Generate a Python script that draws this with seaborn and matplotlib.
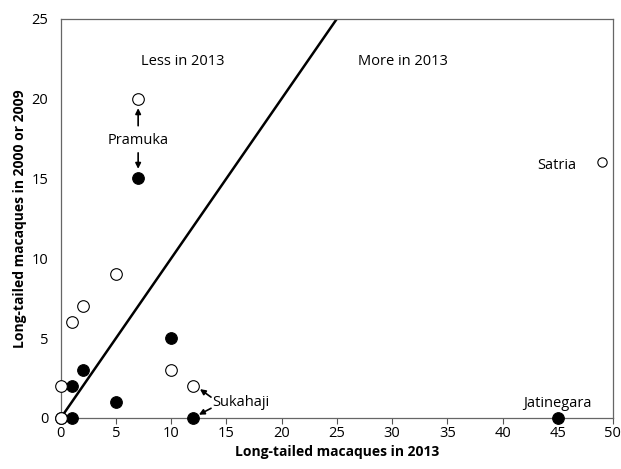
import numpy as np
import pandas as pd
import seaborn as sns
import matplotlib.pyplot as plt

# macaque counts: x = 2013, y = earlier survey
open_x = [7, 5, 2, 1, 0, 0, 10, 12]
open_y = [20, 9, 7, 6, 2, 0, 3, 2]
filled_x = [0, 7, 10, 2, 1, 5, 1, 12, 45]
filled_y = [0, 15, 5, 3, 2, 1, 0, 0, 0]
satria_x = [49]
satria_y = [16]

sns.set_theme(style="white", rc={"text.color": "black", "axes.labelcolor": "black",
                                 "xtick.color": "black", "ytick.color": "black"})
plt.rcParams['font.family'] = ['Open Sans', 'DejaVu Sans']

fig = plt.figure(figsize=(6.21, 4.69), dpi=100)
ax = fig.add_axes([0.098, 0.109, 0.889, 0.851])

ax.plot([0, 25], [0, 25], color="black", lw=1.8, zorder=1)

filled = pd.DataFrame({"x": filled_x, "y": filled_y})
opened = pd.DataFrame({"x": open_x, "y": open_y})
sns.scatterplot(data=filled, x="x", y="y", ax=ax, color="black",
                edgecolor="black", s=70, linewidth=0.8, zorder=3, clip_on=False)
sns.scatterplot(data=opened, x="x", y="y", ax=ax, color="white",
                edgecolor="black", s=70, linewidth=0.8, zorder=4, clip_on=False)
sns.scatterplot(x=satria_x, y=satria_y, ax=ax, color="white",
                edgecolor="black", s=45, linewidth=0.8, zorder=4, clip_on=False)

ax.set_xlim(0, 50)
ax.set_ylim(0, 25)
ax.set_xticks(range(0, 51, 5))
ax.set_yticks(range(0, 26, 5))
ax.tick_params(axis="x", direction="out", length=4, width=0.8, color="#555555",
               labelsize=10.5, pad=2, bottom=True)
ax.tick_params(axis="y", length=0, labelsize=10.5, pad=9)
for s in ax.spines.values():
    s.set_color("#666666")
    s.set_linewidth(0.9)

ax.set_xlabel("Long-tailed macaques in 2013", fontsize=10, fontweight="bold", labelpad=3)
ax.set_ylabel("Long-tailed macaques in 2000 or 2009", fontsize=10, fontweight="bold", labelpad=3)

ax.text(11, 22.3, "Less in 2013", fontsize=10.5, ha="center", va="center")
ax.text(31, 22.3, "More in 2013", fontsize=10.5, ha="center", va="center")
ax.text(46.7, 15.8, "Satria", fontsize=10.5, ha="right", va="center")
ax.text(45, 0.9, "Jatinegara", fontsize=10.5, ha="center", va="center")

arrow = dict(arrowstyle="-|>", color="black", lw=1.2, shrinkA=0, shrinkB=0,
             mutation_scale=8)
ax.text(7, 17.4, "Pramuka", fontsize=10.5, ha="center", va="center")
ax.annotate("", xy=(7, 19.4), xytext=(7, 18.3), arrowprops=arrow)
ax.annotate("", xy=(7, 15.6), xytext=(7, 16.6), arrowprops=arrow)
ax.text(13.7, 0.95, "Sukahaji", fontsize=10.5, ha="left", va="center")
ax.annotate("", xy=(12.6, 1.8), xytext=(13.6, 1.3), arrowprops=arrow)
ax.annotate("", xy=(12.5, 0.2), xytext=(13.6, 0.6), arrowprops=arrow)

plt.savefig("out.png", dpi=100)
